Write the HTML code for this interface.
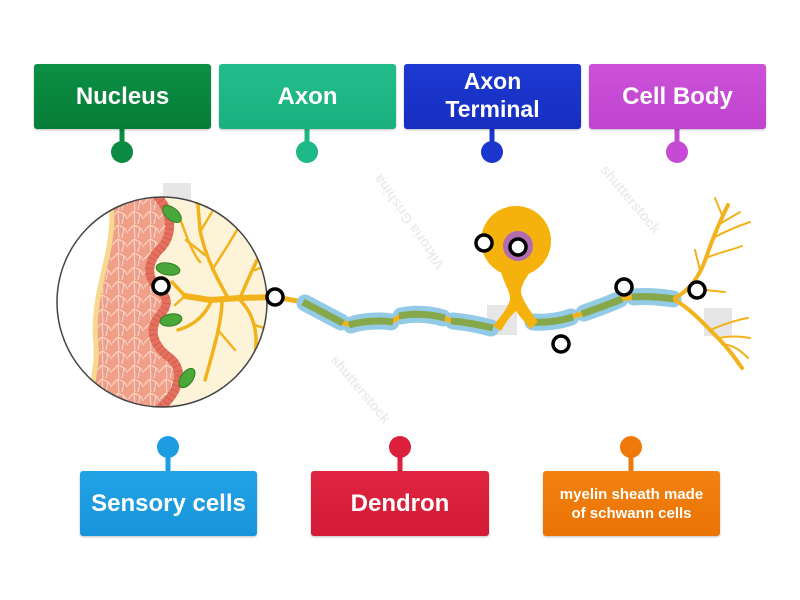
<!DOCTYPE html>
<html><head><meta charset="utf-8"><style>
html,body{margin:0;padding:0;background:#fff;}
body{width:800px;height:600px;position:relative;overflow:hidden;font-family:"Liberation Sans",sans-serif;}
svg{position:absolute;left:0;top:0;}
.box{position:absolute;color:#fff;font-weight:bold;display:flex;align-items:center;justify-content:center;text-align:center;border-radius:3px;box-shadow:0 1px 2px rgba(0,0,0,0.25);}
</style></head><body>
<svg width="800" height="600" viewBox="0 0 800 600">
<defs>
<clipPath id="cc"><circle cx="162" cy="302" r="105"/></clipPath>
<pattern id="mesh" width="16" height="14" patternUnits="userSpaceOnUse">
<rect width="16" height="14" fill="#f0a089"/>
<path d="M0,7 L6,1 L12,4 L16,9 M6,1 L7,14 M12,4 L10,14" stroke="#fbdccc" stroke-width="1" fill="none"/>
<circle cx="10" cy="8" r="0.9" fill="#b99ad0"/>
</pattern>
</defs>
<!-- watermark hints -->
<g fill="#e6e6e6">
<rect x="163" y="183" width="28" height="26"/>
<rect x="487" y="305" width="30" height="30"/>
<rect x="704" y="308" width="28" height="28"/>
</g>
<g font-family="Liberation Sans,sans-serif" font-weight="bold" font-size="14" fill="#ececec">
<text transform="translate(445,265) rotate(-125)">Viktoria Grishina</text>
<text transform="translate(600,170) rotate(50)">shutterstock</text>
<text transform="translate(330,360) rotate(50)">shutterstock</text>
</g>
<!-- big circle -->
<g clip-path="url(#cc)">
<rect x="50" y="190" width="230" height="230" fill="#ffffff"/>
<path d="M150,190 C170,205 176,230 162,247 C150,258 145,272 155,285 C165,295 172,302 160,315 C148,328 152,345 170,358 C185,370 180,392 158,410 L290,410 L290,190 Z" fill="#fdf3d8"/>
<path d="M108,190 C116,215 110,245 104,270 C98,295 93,320 96,345 C98,365 90,385 92,410 L158,410 C180,392 185,370 170,358 C152,345 148,328 160,315 C172,302 165,295 155,285 C145,272 150,258 162,247 C176,230 170,205 150,190 Z" fill="url(#mesh)"/>
<path d="M108,190 C116,215 110,245 104,270 C98,295 93,320 96,345 C98,365 90,385 92,410" stroke="#f6d98e" stroke-width="5" fill="none"/>
<path d="M150,190 C170,205 176,230 162,247 C150,258 145,272 155,285 C165,295 172,302 160,315 C148,328 152,345 170,358 C185,370 180,392 158,410" stroke="#e4705f" stroke-width="9" fill="none"/>
<path d="M150,190 C170,205 176,230 162,247 C150,258 145,272 155,285 C165,295 172,302 160,315 C148,328 152,345 170,358 C185,370 180,392 158,410" stroke="#c8503f" stroke-width="9" stroke-dasharray="1 4" fill="none" opacity="0.6"/>
<!-- dendrites -->
<g stroke="#f2b21c" fill="none" stroke-linecap="round">
<path d="M275,297 L240,298 L210,300 L185,296" stroke-width="6"/>
<path d="M240,298 C248,280 255,262 268,240" stroke-width="3.5"/>
<path d="M255,270 L275,262" stroke-width="2.5"/>
<path d="M228,298 C215,275 205,255 200,230 L198,205" stroke-width="3.5"/>
<path d="M205,255 L186,240" stroke-width="2.5"/>
<path d="M212,270 L228,245 L240,225" stroke-width="2.5"/>
<path d="M200,232 L212,212" stroke-width="2.5"/>
<path d="M185,296 L172,282" stroke-width="3.5"/>
<path d="M185,296 L175,305" stroke-width="2.5"/>
<path d="M212,300 C205,315 195,325 178,330" stroke-width="3.5"/>
<path d="M222,300 C222,320 215,345 205,380" stroke-width="3.5"/>
<path d="M218,330 L235,350" stroke-width="2.5"/>
<path d="M240,300 C255,315 262,340 250,375" stroke-width="3.5"/>
<path d="M255,325 L270,330" stroke-width="2.5"/>
<path d="M198,205 L192,198" stroke-width="2.5"/>
<path d="M178,214 C185,230 190,250 200,262" stroke-width="2.5"/>
</g>
<!-- sensory cells -->
<g fill="#4aa83a" stroke="#2f7d23" stroke-width="1">
<ellipse cx="172" cy="214" rx="11" ry="6" transform="rotate(40 172 214)"/>
<ellipse cx="168" cy="269" rx="12" ry="6" transform="rotate(10 168 269)"/>
<ellipse cx="171" cy="320" rx="11" ry="6" transform="rotate(-10 171 320)"/>
<ellipse cx="187" cy="378" rx="11" ry="6" transform="rotate(-55 187 378)"/>
</g>
</g>
<circle cx="162" cy="302" r="105" fill="none" stroke="#444" stroke-width="1.5"/>
<!-- axon left -->
<path d="M275,297 L303,302" stroke="#f2b21c" stroke-width="5" fill="none"/>
<g stroke-linecap="round" fill="none">
<g stroke="#93cbe6" stroke-width="17">
<path d="M305,303 L341,322"/>
<path d="M351,325 C362,321 380,320 391,322"/>
<path d="M401,316 C414,313 430,314 443,318"/>
<path d="M453,321 C465,322 480,325 491,328"/>
<path d="M533,322 C545,323 560,321 571,317"/>
<path d="M584,313 C595,309 610,304 620,299"/>
<path d="M634,297 C645,296 660,297 673,299"/>
</g>
<g stroke="#f2b21c" stroke-width="5">
<path d="M341,322 L351,325 M391,322 L401,316 M443,318 L453,321 M571,317 L584,313 M620,299 L634,297"/>
</g>
<g stroke="#86a84a" stroke-width="7" stroke-linecap="butt">
<path d="M303,302 L343,323"/>
<path d="M349,325 C362,321 380,320 393,322"/>
<path d="M399,316 C414,313 430,314 445,318"/>
<path d="M451,321 C465,322 480,325 493,328"/>
<path d="M531,322 C545,323 560,321 573,317"/>
<path d="M582,314 C595,309 610,304 622,299"/>
<path d="M632,297 C645,296 660,297 675,299"/>
</g>
</g>
<!-- soma -->
<path d="M500,268 C504,285 511,292 510,300 C507,310 499,318 493,326 L501,331 C506,322 511,315 516,311 C520,317 526,323 530,329 L538,322 C531,312 522,300 521,292 C521,285 527,276 533,268 Z" fill="#f5b20c"/>
<circle cx="516" cy="241" r="35" fill="#f5b20c"/>
<circle cx="518" cy="246" r="15" fill="#b16bb0"/>
<!-- terminals -->
<g stroke="#f2b21c" fill="none" stroke-linecap="round">
<path d="M675,298 C690,290 700,275 706,258 C712,240 718,225 728,205" stroke-width="4"/>
<path d="M706,258 C720,252 732,250 742,246" stroke-width="2"/>
<path d="M713,238 C728,230 738,226 750,222" stroke-width="2"/>
<path d="M718,225 L740,212" stroke-width="2"/>
<path d="M722,215 L715,198" stroke-width="2"/>
<path d="M700,270 L695,250" stroke-width="2"/>
<path d="M675,300 C692,310 705,325 718,338 C728,348 735,358 742,368" stroke-width="4"/>
<path d="M710,330 C722,325 735,320 748,318" stroke-width="2"/>
<path d="M718,338 C730,336 740,336 750,338" stroke-width="2"/>
<path d="M722,344 C735,345 742,352 748,358" stroke-width="2"/>
<path d="M705,290 L725,292" stroke-width="2"/>
</g>
<!-- hotspots -->
<g fill="#fff" stroke="#000" stroke-width="3.5">
<circle cx="161" cy="286" r="8"/>
<circle cx="275" cy="297" r="8"/>
<circle cx="484" cy="243" r="8"/>
<circle cx="518" cy="247" r="8"/>
<circle cx="624" cy="287" r="8"/>
<circle cx="697" cy="290" r="8"/>
<circle cx="561" cy="344" r="8"/>
</g>
<!-- stems -->
<g stroke-width="5">
<line x1="122" y1="128" x2="122" y2="150" stroke="#0b8a42"/>
<line x1="307" y1="128" x2="307" y2="150" stroke="#1fb888"/>
<line x1="492" y1="128" x2="492" y2="150" stroke="#1a36cc"/>
<line x1="677" y1="128" x2="677" y2="150" stroke="#c64bd4"/>
<line x1="168" y1="447" x2="168" y2="472" stroke="#1e9ce2"/>
<line x1="400" y1="447" x2="400" y2="472" stroke="#dc1f3d"/>
<line x1="631" y1="447" x2="631" y2="472" stroke="#ef7a0a"/>
</g>
<circle cx="122" cy="152" r="11" fill="#0b8a42"/>
<circle cx="307" cy="152" r="11" fill="#1fb888"/>
<circle cx="492" cy="152" r="11" fill="#1a36cc"/>
<circle cx="677" cy="152" r="11" fill="#c64bd4"/>
<circle cx="168" cy="447" r="11" fill="#1e9ce2"/>
<circle cx="400" cy="447" r="11" fill="#dc1f3d"/>
<circle cx="631" cy="447" r="11" fill="#ef7a0a"/>
</svg>
<div class="box" style="left:34px;top:64px;width:177px;height:65px;background:linear-gradient(#0c8f45,#077e38);font-size:24px;">Nucleus</div>
<div class="box" style="left:219px;top:64px;width:177px;height:65px;background:linear-gradient(#22bd8b,#1bb07f);font-size:24px;">Axon</div>
<div class="box" style="left:404px;top:64px;width:177px;height:65px;background:linear-gradient(#1c3ad2,#172dc0);font-size:23px;line-height:28px;padding-bottom:4px;box-sizing:border-box;">Axon<br>Terminal</div>
<div class="box" style="left:589px;top:64px;width:177px;height:65px;background:linear-gradient(#cb52d8,#c043cf);font-size:24px;">Cell Body</div>
<div class="box" style="left:80px;top:471px;width:177px;height:65px;background:linear-gradient(#22a3e6,#1894da);font-size:24px;">Sensory cells</div>
<div class="box" style="left:311px;top:471px;width:178px;height:65px;background:linear-gradient(#e02441,#d41a36);font-size:24px;">Dendron</div>
<div class="box" style="left:543px;top:471px;width:177px;height:65px;background:linear-gradient(#f2820f,#ea7305);font-size:15px;line-height:19px;">myelin sheath made<br>of schwann cells</div>
</body></html>
